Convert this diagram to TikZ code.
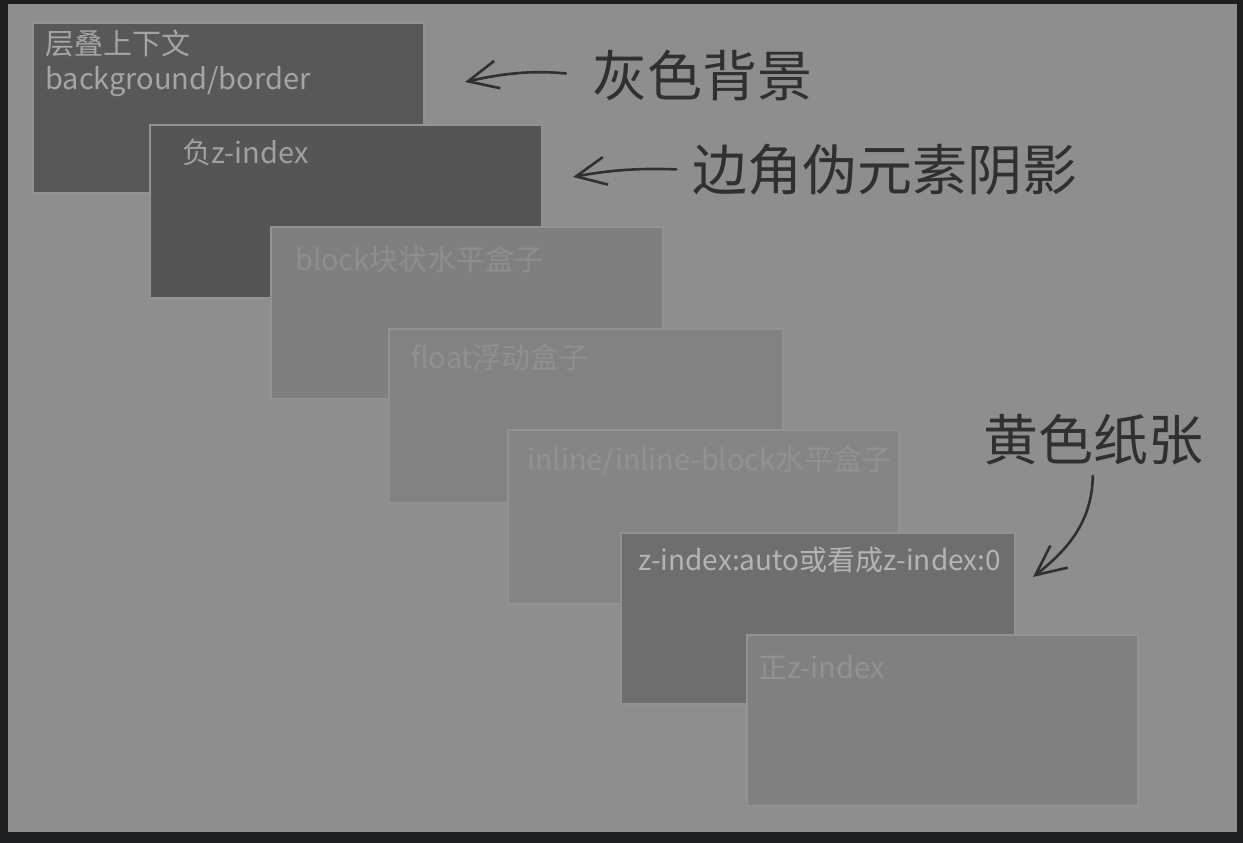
\documentclass[tikz,border=0pt]{standalone}
\usepackage{fontspec}
\setmainfont{Noto Sans CJK SC}
\usetikzlibrary{arrows.meta}
\definecolor{frameC}{HTML}{1E1F21}
\definecolor{panelC}{HTML}{8E8E8E}
\definecolor{edgeC}{HTML}{929292}
\definecolor{handC}{HTML}{303030}
\tikzset{
  box/.style={draw=edgeC, line width=2pt, inner sep=0pt, anchor=north west},
  lbl/.style={inner sep=0pt, anchor=base west, font=\fontsize{29}{34}\selectfont},
  hand/.style={inner sep=0pt, text=handC, font=\fontsize{55}{60}\selectfont},
  harrow/.style={draw=handC, line width=2.6pt, line cap=round,
     -{Straight Barb[length=30pt,width=28pt]}}
}
\begin{document}
\begin{tikzpicture}[x=1pt,y=-1pt]
\useasboundingbox (0,0) rectangle (1243,843);
\fill[frameC] (0,0) rectangle (1243,843);
\fill[panelC] (8,4) rectangle (1237,832);
% stacked boxes
\node[box, fill={rgb,255:red,88;green,88;blue,88}, minimum width=391pt, minimum height=170pt] (b1) at (32,22) {};
\node[lbl, text={rgb,255:red,165;green,165;blue,165}] (t1a) at (45,55) {层叠上下文};
\node[lbl, text={rgb,255:red,165;green,165;blue,165}] (t1b) at (45,90) {background/border};
\node[box, fill={rgb,255:red,85;green,85;blue,85}, minimum width=392pt, minimum height=173pt] (b2) at (149,124) {};
\node[lbl, text={rgb,255:red,160;green,160;blue,160}] (t2) at (182,163) {负z-index};
\node[box, fill={rgb,255:red,127;green,127;blue,127}, minimum width=392pt, minimum height=172pt] (b3) at (270,226) {};
\node[lbl, text={rgb,255:red,142;green,142;blue,142}] (t3) at (295,270) {block块状水平盒子};
\node[box, fill={rgb,255:red,130;green,130;blue,130}, minimum width=394pt, minimum height=174pt] (b4) at (388,328) {};
\node[lbl, text={rgb,255:red,144;green,144;blue,144}] (t4) at (411,368) {float浮动盒子};
\node[box, fill={rgb,255:red,133;green,133;blue,133}, minimum width=391pt, minimum height=174pt] (b5) at (507,429) {};
\node[lbl, text={rgb,255:red,146;green,146;blue,146}] (t5) at (527,470) {inline/inline-block水平盒子};
\node[box, fill={rgb,255:red,110;green,110;blue,110}, minimum width=394pt, minimum height=171pt] (b6) at (620,532) {};
\node[lbl, text={rgb,255:red,180;green,180;blue,180}, font=\fontsize{28}{33}\selectfont] (t6) at (638,570) {z-index:auto或看成z-index:0};
\node[box, fill={rgb,255:red,128;green,128;blue,128}, minimum width=391pt, minimum height=171pt] (b7) at (746,634) {};
\node[lbl, text={rgb,255:red,146;green,146;blue,146}] (t7) at (758,678) {正z-index};
% handwritten notes
\node[hand] (h1) at (702,76) {灰色背景};
\node[hand] (h2) at (885,170) {边角伪元素阴影};
\node[hand] (h3) at (1093,440) {黄色纸张};
\coordinate (a1) at (465,82);
\coordinate (a2) at (573,177);
\coordinate (a3) at (1033,577);
\draw[harrow, shorten <=26pt] (h1.west) .. controls (530,70) and (500,74) .. (a1);
\draw[harrow, shorten <=16pt] (h2.west) .. controls (640,168) and (610,170) .. (a2);
\draw[harrow, shorten <=10pt] (h3.south) .. controls (1092,520) and (1070,548) .. (a3);
\end{tikzpicture}
\end{document}
